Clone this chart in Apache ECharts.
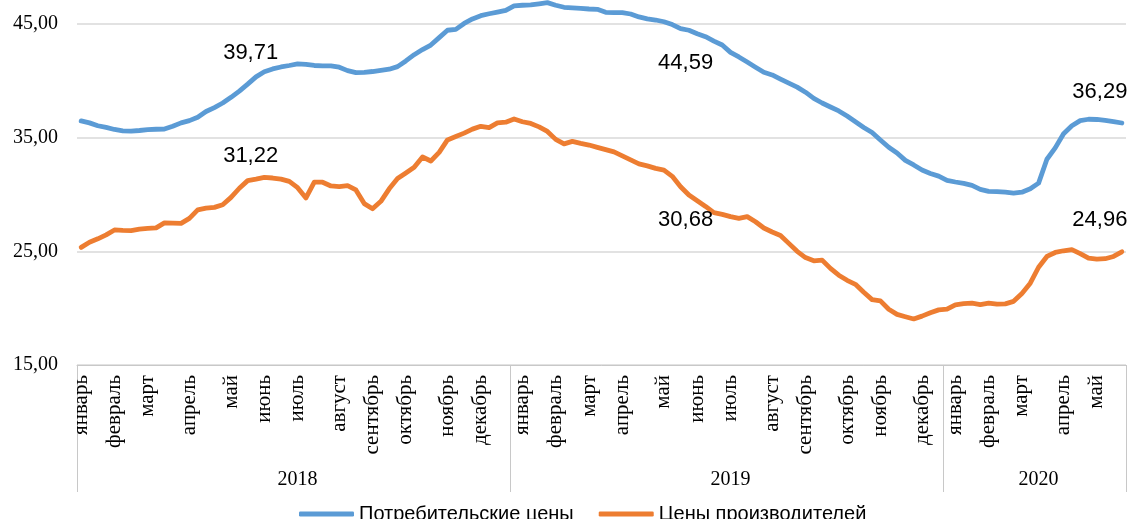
<!DOCTYPE html>
<html><head><meta charset="utf-8">
<script src="https://cdn.jsdelivr.net/npm/echarts@6/dist/echarts.min.js"></script>
<style>html,body{margin:0;padding:0;background:#fff}#c{width:1133px;height:519px}</style>
</head><body><div id="c"></div>
<script>
// ---- data ----
const years = ['2018', '2019', '2020'];
const weeksPerYear = [52, 52, 22];
const monthNames = [
  'январь','февраль','март','апрель','май','июнь','июль','август','сентябрь','октябрь','ноябрь','декабрь',
  'январь','февраль','март','апрель','май','июнь','июль','август','сентябрь','октябрь','ноябрь','декабрь',
  'январь','февраль','март','апрель','май'
];
const monthWeekIdx = [
  0, 4, 8, 13, 18, 22, 26, 31, 35, 39, 44, 48,
  53, 57, 61, 65, 70, 74, 78, 83, 87, 92, 96, 101,
  105, 109, 113, 118, 122
];
const seriesNames = ['Потребительские цены', 'Цены производителей'];
const consumerPrices = [
  36.47, 36.30, 36.05, 35.90, 35.72, 35.60, 35.58, 35.63, 35.70, 35.74,
  35.76, 36.00, 36.30, 36.50, 36.80, 37.30, 37.65, 38.05, 38.55, 39.10,
  39.71, 40.35, 40.80, 41.05, 41.22, 41.35, 41.50, 41.45, 41.35, 41.32,
  41.32, 41.20, 40.90, 40.72, 40.75, 40.82, 40.92, 41.02, 41.25, 41.75,
  42.30, 42.75, 43.15, 43.80, 44.45, 44.53, 45.05, 45.45, 45.73, 45.90,
  46.05, 46.20, 46.60, 46.65, 46.68, 46.78, 46.88, 46.65, 46.47, 46.42,
  46.38, 46.32, 46.29, 46.03, 46.00, 46.00, 45.88, 45.62, 45.45, 45.35,
  45.20, 44.95, 44.59, 44.45, 44.15, 43.88, 43.50, 43.15, 42.50, 42.10,
  41.65, 41.20, 40.75, 40.52, 40.15, 39.80, 39.45, 39.00, 38.45, 38.05,
  37.70, 37.35, 36.90, 36.40, 35.90, 35.45, 34.80, 34.15, 33.65, 33.00,
  32.60, 32.15, 31.85, 31.62, 31.25, 31.10, 30.98, 30.80, 30.45, 30.28,
  30.26, 30.20, 30.12, 30.20, 30.50, 31.00, 33.10, 34.10, 35.35, 36.05,
  36.50, 36.62, 36.60, 36.52, 36.42, 36.29
];
const producerPrices = [
  25.35, 25.80, 26.10, 26.45, 26.88, 26.84, 26.82, 26.95, 27.02, 27.06,
  27.50, 27.48, 27.46, 27.90, 28.65, 28.80, 28.87, 29.10, 29.75, 30.55,
  31.22, 31.35, 31.50, 31.45, 31.35, 31.15, 30.60, 29.70, 31.08, 31.08,
  30.75, 30.70, 30.78, 30.40, 29.20, 28.75, 29.40, 30.50, 31.40, 31.90,
  32.40, 33.30, 32.95, 33.70, 34.80, 35.10, 35.40, 35.75, 36.00, 35.88,
  36.30, 36.36, 36.65, 36.40, 36.25, 35.95, 35.55, 34.85, 34.45, 34.67,
  34.50, 34.35, 34.15, 33.95, 33.75, 33.40, 33.05, 32.70, 32.52, 32.30,
  32.15, 31.60, 30.68, 29.95, 29.45, 28.95, 28.40, 28.25, 28.05, 27.90,
  28.05, 27.60, 27.05, 26.70, 26.40, 25.70, 25.00, 24.45, 24.17, 24.23,
  23.50, 22.90, 22.45, 22.10, 21.40, 20.75, 20.64, 19.90, 19.45, 19.25,
  19.05, 19.30, 19.60, 19.85, 19.91, 20.30, 20.40, 20.44, 20.32, 20.44,
  20.35, 20.38, 20.60, 21.30, 22.20, 23.60, 24.55, 24.90, 25.05, 25.15,
  24.80, 24.40, 24.32, 24.35, 24.55, 24.96
];
const labeledWeeks = [20, 72, 125];
const yTicks = [15, 25, 35, 45];

// ---- build axes ----
const nWeeks = weeksPerYear.reduce((a, b) => a + b, 0);
const monthAxis = new Array(nWeeks).fill('');
monthNames.forEach((m, k) => { monthAxis[monthWeekIdx[k]] = m; });
const yearAxis = new Array(nWeeks).fill('');
const yearStarts = [];
let s = 0;
weeksPerYear.forEach((n, k) => { yearStarts.push(s); yearAxis[s + Math.floor(n / 2)] = years[k]; s += n; });

const fmt = v => Number(v).toFixed(2).replace('.', ',');

// label placement per series (style only)
const labelPlacement = [
  [{pos: 'top', off: [3, 0]}, {pos: 'bottom', off: [5, 0]}, {pos: 'top', off: [-22, 0]}],
  [{pos: 'top', off: [3, 7]}, {pos: 'bottom', off: [5, -1]}, {pos: 'top', off: [-22, 0]}]
];
function buildData(values, si, color) {
  return values.map((v, i) => {
    const k = labeledWeeks.indexOf(i);
    if (k < 0) return v;
    const p = labelPlacement[si][k];
    return {
      value: v,
      symbol: 'circle', symbolSize: 1,
      itemStyle: {color: color},
      label: {
        show: true, position: p.pos, offset: p.off,
        distance: p.pos === 'top' ? 20 : 23,
        formatter: o => fmt(o.value),
        fontFamily: 'Liberation Sans', fontSize: 22, color: '#000'
      }
    };
  });
}

const colors = ['#5b9bd5', '#ed7d31'];
const chart = echarts.init(document.getElementById('c'), null, {renderer: 'canvas'});
chart.setOption({
  animation: false,
  backgroundColor: '#fff',
  grid: {left: 77, right: 7, top: 24, bottom: 154, outerBoundsMode: 'none', containLabel: false},
  legend: {
    data: seriesNames.map((n, i) => ({name: n, icon: 'roundRect', itemStyle: {color: colors[i]}})),
    left: 294, top: 499, itemWidth: 55, itemHeight: 5, itemGap: 25,
    textStyle: {fontFamily: 'Liberation Sans', fontSize: 20, color: '#000'}
  },
  xAxis: [
    {
      type: 'category', data: monthAxis, boundaryGap: true,
      axisLine: {show: true, lineStyle: {color: '#c8c8c8', width: 1}},
      axisTick: {show: false},
      axisLabel: {interval: 0, rotate: 90, margin: 10, fontFamily: 'Liberation Serif', fontSize: 21, color: '#000'},
      splitLine: {show: false}
    },
    {
      type: 'category', data: yearAxis, boundaryGap: true, position: 'bottom',
      axisLine: {show: false},
      axisTick: {show: true, length: 127, interval: (i) => yearStarts.indexOf(i) >= 0, lineStyle: {color: '#c8c8c8', width: 1}},
      axisLabel: {interval: 0, margin: 105, fontFamily: 'Liberation Serif', fontSize: 20, color: '#000'},
      splitLine: {show: false}
    }
  ],
  yAxis: {
    type: 'value', min: yTicks[0], max: yTicks[yTicks.length - 1], interval: yTicks[1] - yTicks[0],
    axisLine: {show: false}, axisTick: {show: false},
    axisLabel: {formatter: fmt, margin: 19, fontFamily: 'Liberation Serif', fontSize: 20, color: '#000'},
    splitLine: {show: true, lineStyle: {color: '#d9d9d9', width: 1.5}}
  },
  series: seriesNames.map((n, i) => ({
    name: n, type: 'line', clip: false,
    data: buildData(i === 0 ? consumerPrices : producerPrices, i, colors[i]),
    symbol: 'none', showSymbol: true,
    lineStyle: {color: colors[i], width: 4.8, cap: 'round', join: 'round'},
    itemStyle: {color: colors[i]}, z: 3
  }))
});
</script>
</body></html>
